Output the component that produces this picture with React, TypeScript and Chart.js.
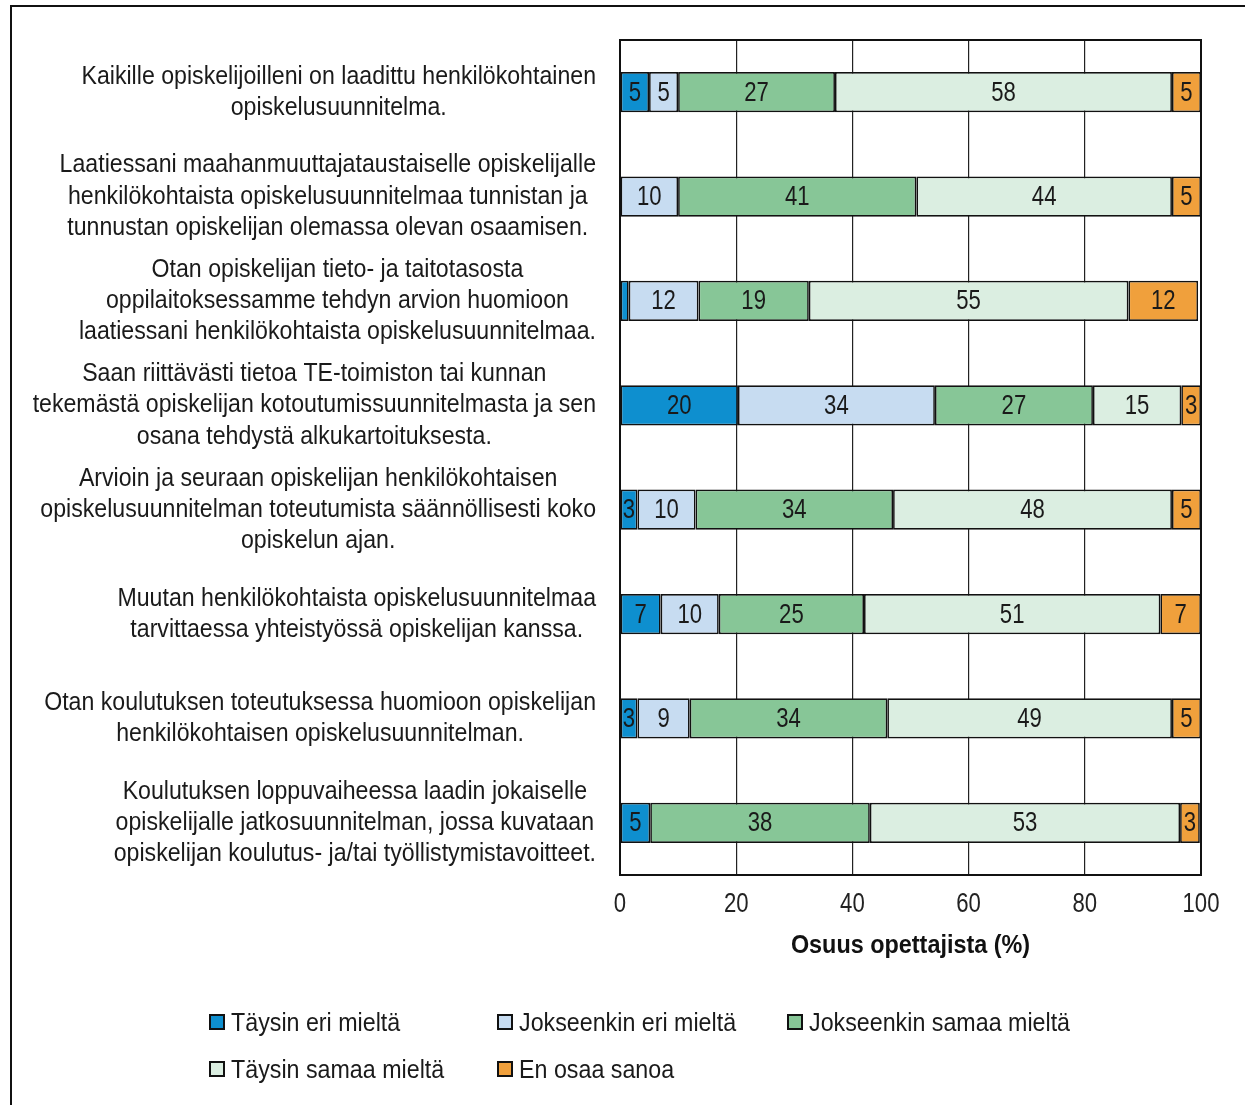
import React, { useEffect, useRef } from "react";
import { Chart, registerables } from "chart.js";

Chart.register(...registerables);

const categories: string[][] = [
  ["Kaikille opiskelijoilleni on laadittu henkilökohtainen", "opiskelusuunnitelma."],
  ["Laatiessani maahanmuuttajataustaiselle opiskelijalle", "henkilökohtaista opiskelusuunnitelmaa tunnistan ja", "tunnustan opiskelijan olemassa olevan osaamisen."],
  ["Otan opiskelijan tieto- ja taitotasosta", "oppilaitoksessamme tehdyn arvion huomioon", "laatiessani henkilökohtaista opiskelusuunnitelmaa."],
  ["Saan riittävästi tietoa TE-toimiston tai kunnan", "tekemästä opiskelijan kotoutumissuunnitelmasta ja sen", "osana tehdystä alkukartoituksesta."],
  ["Arvioin ja seuraan opiskelijan henkilökohtaisen", "opiskelusuunnitelman toteutumista säännöllisesti koko", "opiskelun ajan."],
  ["Muutan henkilökohtaista opiskelusuunnitelmaa", "tarvittaessa yhteistyössä opiskelijan kanssa."],
  ["Otan koulutuksen toteutuksessa huomioon opiskelijan", "henkilökohtaisen opiskelusuunnitelman."],
  ["Koulutuksen loppuvaiheessa laadin jokaiselle", "opiskelijalle jatkosuunnitelman, jossa kuvataan", "opiskelijan koulutus- ja/tai työllistymistavoitteet."],
];

const seriesNames = [
  "Täysin eri mieltä",
  "Jokseenkin eri mieltä",
  "Jokseenkin samaa mieltä",
  "Täysin samaa mieltä",
  "En osaa sanoa",
];

const taysinEri = [5, 0, 1.5, 20.3, 3, 7, 3, 5.2];
const jokseenkinEri = [5, 10, 12, 33.9, 10, 10, 9, 0];
const jokseenkinSamaa = [27, 41, 19, 27.2, 34, 25, 34, 37.8];
const taysinSamaa = [58, 44, 55, 15.2, 48, 51, 49, 53.4];
const enOsaa = [5, 5, 12, 3.4, 5, 7, 5, 3.4];

const seriesValues = [taysinEri, jokseenkinEri, jokseenkinSamaa, taysinSamaa, enOsaa];
const seriesColors = ["#0E8FCF", "#C7DCF1", "#87C697", "#DBEEE1", "#F0A03C"];

const xTicks = [0, 20, 40, 60, 80, 100];
const xTitle = "Osuus opettajista (%)";

const FONT = '"Liberation Sans", Arial, sans-serif';
const NARROW = 0.89;

function drawNarrow(ctx: any, text: string, x: number, y: number, align: string, sx: number) {
  ctx.save();
  ctx.translate(x, y);
  ctx.scale(sx, 1);
  ctx.textAlign = align;
  ctx.fillText(text, 0, 0);
  ctx.restore();
}

const textPlugin = {
  id: "narrowText",
  afterDraw(chart: any) {
    const ctx = chart.ctx;
    const yScale = chart.scales.y;
    const xScale = chart.scales.x;
    const area = chart.chartArea;
    ctx.save();
    ctx.textBaseline = "middle";
    ctx.fillStyle = "#1a1a1a";

    // category labels
    ctx.font = `26px ${FONT}`;
    const rightEdge = area.left - 24;
    const lineH = 31.3;
    categories.forEach((lines, i) => {
      const cy = yScale.getPixelForValue(i);
      const maxW = Math.max(...lines.map((l) => ctx.measureText(l).width)) * NARROW;
      const cx = rightEdge - maxW / 2;
      const startY = cy - ((lines.length - 1) * lineH) / 2;
      lines.forEach((l, j) => drawNarrow(ctx, l, cx, startY + j * lineH, "center", NARROW));
    });

    // x tick labels
    ctx.font = `27px ${FONT}`;
    ctx.fillStyle = "#222";
    xTicks.forEach((v) => {
      drawNarrow(ctx, String(v), xScale.getPixelForValue(v), area.bottom + 30, "center", 0.82);
    });

    // axis title
    ctx.font = `bold 26px ${FONT}`;
    ctx.fillStyle = "#111";
    drawNarrow(ctx, xTitle, (area.left + area.right) / 2, area.bottom + 71, "center", 0.9);
    ctx.restore();
  },
};

const dataLabelPlugin = {
  id: "dataLabels",
  afterDatasetsDraw(chart: any) {
    const ctx = chart.ctx;
    ctx.save();
    ctx.font = `27px ${FONT}`;
    ctx.fillStyle = "#1a1a1a";
    ctx.textBaseline = "middle";
    chart.data.datasets.forEach((ds: any, di: number) => {
      const meta = chart.getDatasetMeta(di);
      meta.data.forEach((el: any, i: number) => {
        const v = ds.data[i];
        if (v < 2.5) return;
        const x = (el.x + el.base) / 2;
        drawNarrow(ctx, String(Math.round(v)), x, el.y + 1, "center", 0.82);
      });
    });
    ctx.restore();
  },
};

const plotFramePlugin = {
  id: "plotFrame",
  afterDatasetsDraw(chart: any) {
    const { left, top, right, bottom } = chart.chartArea;
    const ctx = chart.ctx;
    ctx.save();
    ctx.strokeStyle = "#111";
    ctx.lineWidth = 2;
    ctx.strokeRect(left, top, right - left, bottom - top);
    ctx.restore();
  },
};

export default function App() {
  const canvasRef = useRef<HTMLCanvasElement>(null);

  useEffect(() => {
    let chart: Chart | null = null;
    let cancelled = false;
    const make = () => {
      if (cancelled || !canvasRef.current) return;
      chart = new Chart(canvasRef.current, {
        type: "bar",
        data: {
          labels: categories.map((c) => c.join(" ")),
          datasets: seriesNames.map((name, i) => ({
            label: name,
            data: seriesValues[i],
            backgroundColor: seriesColors[i],
            borderColor: "#111",
            borderWidth: 1.7,
            borderSkipped: false,
            barPercentage: 0.385,
            categoryPercentage: 1,
          })),
        },
        options: {
          indexAxis: "y",
          animation: false,
          responsive: false,
          devicePixelRatio: 1,
          layout: { padding: { left: 620, right: 44, top: 40, bottom: 170 } },
          plugins: { legend: { display: false }, tooltip: { enabled: false } },
          scales: {
            x: {
              stacked: true,
              min: 0,
              max: 100,
              afterBuildTicks: (axis: any) => {
                axis.ticks = xTicks.map((v) => ({ value: v }));
              },
              afterFit: (axis: any) => {
                axis.height = 60;
              },
              grid: { color: "#222", lineWidth: 1.2, drawTicks: false },
              border: { display: false },
              ticks: {
                color: "rgba(0,0,0,0)",
                font: { family: FONT, size: 27 },
                padding: 14,
                maxRotation: 0,
              },
            },
            y: {
              stacked: true,
              display: false,
            },
          },
        },
        plugins: [textPlugin, dataLabelPlugin, plotFramePlugin],
      } as any);
    };
    const fontsReady = (document as any).fonts
      ? Promise.all([
          (document as any).fonts.load(`26px "Liberation Sans"`),
          (document as any).fonts.load(`bold 26px "Liberation Sans"`),
        ]).catch(() => null)
      : Promise.resolve(null);
    fontsReady.then(make);
    return () => {
      cancelled = true;
      if (chart) chart.destroy();
    };
  }, []);

  const legendRows = [
    [0, 1, 2],
    [3, 4],
  ];
  const colX = [209, 497, 787];
  const rowY = [1022, 1069];

  return (
    <div style={{ position: "absolute", left: 0, top: 0, width: 1245, height: 1105, overflow: "hidden", background: "#fff" }}>
      <div style={{ position: "absolute", left: 10, top: 5, width: 1400, height: 1300, border: "2.5px solid #111", boxSizing: "border-box" }} />
      <canvas ref={canvasRef} width={1245} height={1105} style={{ position: "absolute", left: 0, top: 0, width: 1245, height: 1105 }} />
      {legendRows.map((row, ri) =>
        row.map((si, ci) => (
          <div
            key={si}
            style={{
              position: "absolute",
              left: colX[ci],
              top: rowY[ri] - 16,
              height: 32,
              display: "flex",
              alignItems: "center",
              fontFamily: FONT,
              fontSize: 25,
              color: "#1a1a1a",
              whiteSpace: "nowrap",
            }}
          >
            <span
              style={{
                display: "inline-block",
                width: 16,
                height: 16,
                background: seriesColors[si],
                border: "2px solid #111",
                boxSizing: "border-box",
                marginRight: 6,
                flex: "none",
              }}
            />
            <span style={{ display: "inline-block", transform: "scaleX(0.93)", transformOrigin: "left center" }}>
              {seriesNames[si]}
            </span>
          </div>
        ))
      )}
    </div>
  );
}
